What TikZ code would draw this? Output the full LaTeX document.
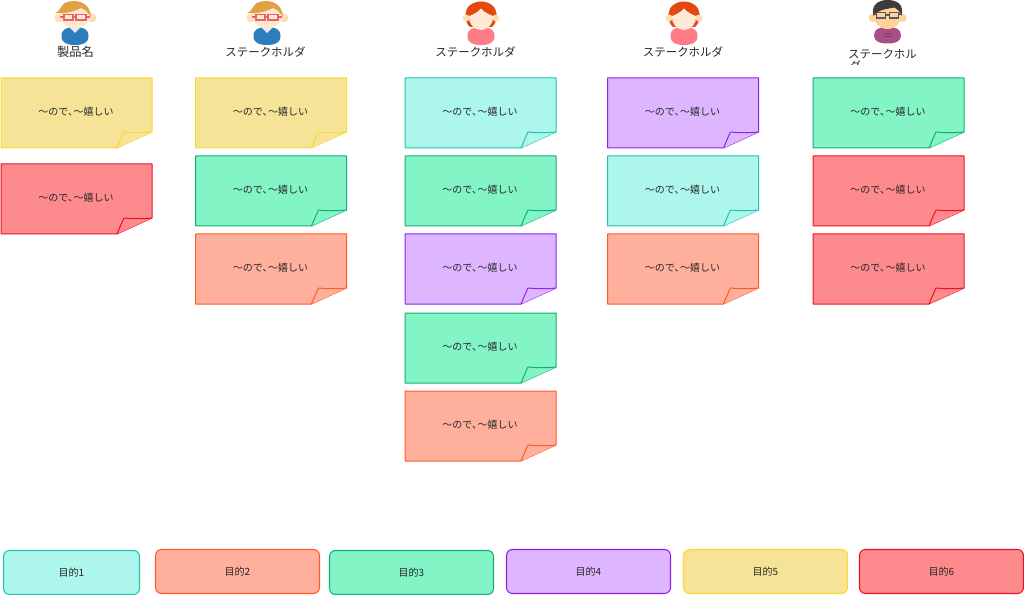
\documentclass[tikz,border=0pt]{standalone}
\usepackage{fontspec}
\setmainfont{Noto Sans CJK JP}
\definecolor{yf}{HTML}{F5E498}\definecolor{ys}{HTML}{FFD633}
\definecolor{rf}{HTML}{FD8A8C}\definecolor{rs}{HTML}{F01020}
\definecolor{gf}{HTML}{82F4C6}\definecolor{gs}{HTML}{12B070}
\definecolor{of}{HTML}{FFB09C}\definecolor{os}{HTML}{FF5A28}
\definecolor{cf}{HTML}{ADF6EC}\definecolor{cs}{HTML}{20C4B0}
\definecolor{pf}{HTML}{DDB6FF}\definecolor{ps}{HTML}{9020F0}
\definecolor{boyblue}{HTML}{2B7DBE}\definecolor{boyhair}{HTML}{E2A040}\definecolor{boyface}{HTML}{FFE9CF}\definecolor{boyear}{HTML}{FFDDB5}
\definecolor{girlhair}{HTML}{E2480F}\definecolor{girlbody}{HTML}{FF7C86}\definecolor{girlface}{HTML}{FFEBD5}
\definecolor{manbody}{HTML}{A94F86}\definecolor{manface}{HTML}{FFD29A}\definecolor{manhair}{HTML}{3C3C3C}\definecolor{glasses}{HTML}{E8606A}
\tikzset{
 notetext/.style={font=\fontsize{7.5pt}{9pt}\selectfont,text=black!85,inner sep=0pt},
 headlabel/.style={font=\fontsize{8.6pt}{10pt}\selectfont,text=black!85,inner sep=0pt},
 goalbox/.style={draw=#1s,fill=#1f,rounded corners=4.5pt,line width=.8pt,minimum height=33pt,inner sep=0pt,font=\fontsize{7.5pt}{9pt}\selectfont,text=black!85},
}
% \stickynote{name}{x}{y}{colour}
\newcommand{\stickynote}[4]{%
 \begin{scope}[shift={(#2,#3)}]
 \draw[draw=#4s,fill=#4f,line width=.75pt,line join=round] (0,0) -- (151,0) -- (151,54) -- (116,70) -- (0,70) -- cycle;
 \draw[draw=#4s,fill=#4f,line width=.75pt,line join=round] (116,70) .. controls (119,63) and (121,58) .. (123,54) .. controls (132,55) and (142,55) .. (151,54);
 \node[notetext] (#1) at (75,33.5) {〜ので、\kern-.45em〜嬉しい};
 \end{scope}}
% shared torso: #1 colour, #2 top, #3 bottom
\newcommand{\torso}[3]{%
 \fill[#1] (-13.5,{(#2+#3)/2}) .. controls (-13.5,#2+2) and (-8,#2) .. (0,#2) .. controls (8,#2) and (13.5,#2+2) .. (13.5,{(#2+#3)/2}) .. controls (13.5,#3-2) and (8,#3) .. (0,#3) .. controls (-8,#3) and (-13.5,#3-2) .. (-13.5,{(#2+#3)/2}) -- cycle;}
% people
\newcommand{\boyhead}[1]{%
 \begin{scope}[shift={(#1,0)}]
 \torso{boyblue}{27}{45}
 \fill[white!92!blue] (-7,26) -- (0,33) -- (7,26) -- cycle;
 \fill[boyear] (-16,18) circle (4.5) (17,18) circle (4.5);
 \fill[boyface] (0,15) ellipse (15 and 13.5);
 \fill[boyhair] (-20,13) .. controls (-15,12) and (-15,6) .. (-10,3) .. controls (-2,-1) and (15,0) .. (16,17) .. controls (13,12) and (9,9) .. (6,8) .. controls (0,11) and (-8,14) .. (-20,13) -- cycle;
 \draw[glasses,line width=.8pt] (-11,14.5) rectangle (-2,20) (1,14.5) rectangle (11,20) (-2,17) -- (1,17) (-15,17) -- (-11,17) (11,17) -- (15,17);
 \end{scope}}
\newcommand{\girlhead}[1]{%
 \begin{scope}[shift={(#1,0)}]
 \torso{girlbody}{27}{45}
 \fill[girlhair] (0,14) ellipse (15.5 and 12.5);
 \fill[girlhair] (-15.5,14) .. controls (-15.5,20) and (-14,25) .. (-11,27) -- (11,27) .. controls (14,25) and (15.5,20) .. (15.5,14) -- cycle;
 \fill[boyear] (-15,18) circle (3.5) (15,18) circle (3.5);
 \fill[girlface] (0,8.5) .. controls (-4,13) and (-9,15) .. (-12,16) .. controls (-13,23) and (-7,30) .. (0,30) .. controls (7,30) and (13,23) .. (12,16) .. controls (9,15) and (4,13) .. (0,8.5) -- cycle;
 \end{scope}}
\newcommand{\manhead}[1]{%
 \begin{scope}[shift={(#1,0)}]
 \torso{manbody}{27}{43.5}
 \draw[manbody!75!black,line width=.5pt] (-4,33) -- (4,33) (-4,36.5) -- (4,36.5);
 \fill[manface] (-15,18) circle (4) (15,18) circle (4);
 \fill[manface] (0,15.5) ellipse (14 and 13.5);
 \fill[manhair] (-14,16) .. controls (-17,4) and (-8,0) .. (0,0) .. controls (9,0) and (17,4) .. (14,16) .. controls (12,11) and (10,9) .. (7,7.5) .. controls (0,9) and (-9,9) .. (-14,16) -- cycle;
 \draw[black!65,line width=.8pt] (-11,12.5) rectangle (-2,18) (2,12.5) rectangle (11,18) (-2,15) -- (2,15) (-14,14) -- (-11,14) (11,14) -- (14,14);
 \end{scope}}
\begin{document}
\begin{tikzpicture}[x=0.75pt,y=-0.75pt]
\useasboundingbox (0,0) rectangle (1024,595);
\fill[white] (0,0) rectangle (1024,595);
\boyhead{75}\boyhead{267}\girlhead{481}\girlhead{684}\manhead{887.5}
\node[headlabel,font=\fontsize{9.2pt}{10pt}\selectfont] (h1) at (75.5,52) {製品名};
\node[headlabel] (h2) at (265.5,52) {ステークホルダ};
\node[headlabel] (h3) at (475.5,52) {ステークホルダ};
\node[headlabel] (h4) at (683,52) {ステークホルダ};
\node[headlabel] (h5) at (882.5,54) {ステークホル};
\begin{scope}
\clip (840,58.5) rectangle (880,64.5);
\node[headlabel] (h5b) at (855,66.5) {ダ};
\end{scope}
\stickynote{a1}{1}{78}{y}
\stickynote{a2}{1}{164}{r}
\stickynote{b1}{195.5}{78}{y}
\stickynote{b2}{195.5}{156}{g}
\stickynote{b3}{195.5}{234}{o}
\stickynote{c1}{405}{78}{c}
\stickynote{c2}{405}{156}{g}
\stickynote{c3}{405}{234}{p}
\stickynote{c4}{405}{313}{g}
\stickynote{c5}{405}{391}{o}
\stickynote{d1}{607.5}{78}{p}
\stickynote{d2}{607.5}{156}{c}
\stickynote{d3}{607.5}{234}{o}
\stickynote{e1}{813}{78}{g}
\stickynote{e2}{813}{156}{r}
\stickynote{e3}{813}{234}{r}
\node[goalbox=c,minimum width=102pt] (g1) at (71.5,572.5) {目的1};
\node[goalbox=o,minimum width=123pt] (g2) at (237.5,571.5) {目的2};
\node[goalbox=g,minimum width=123pt] (g3) at (411.5,572.5) {目的3};
\node[goalbox=p,minimum width=123pt] (g4) at (588.5,571.5) {目的4};
\node[goalbox=y,minimum width=123pt] (g5) at (765.5,571.5) {目的5};
\node[goalbox=r,minimum width=123pt] (g6) at (941.5,571.5) {目的6};
\end{tikzpicture}
\end{document}
